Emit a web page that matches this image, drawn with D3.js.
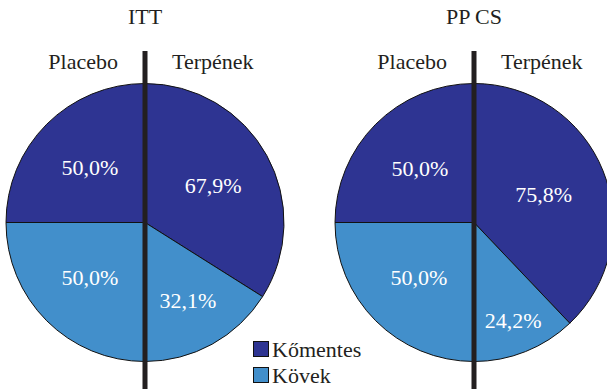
<!DOCTYPE html>
<html><head><meta charset="utf-8">
<script src="https://cdn.jsdelivr.net/npm/d3@7"></script>
<style>
html,body{margin:0;padding:0;background:#fff;}
svg{display:block;}
text{font-family:'Liberation Serif','Times New Roman',Times,'DejaVu Serif',serif;}
</style></head>
<body><svg id="c" width="607" height="389"></svg>
<script>
// ---- data ----
const groups = ["ITT", "PP CS"];
const arms = ["Placebo", "Terpének"];
const categories = ["Kőmentes", "Kövek"];
const komentes = [[50.0, 67.9], [50.0, 75.8]];  // per group: [Placebo, Terpének]
const kovek    = [[50.0, 32.1], [50.0, 24.2]];

// ---- layout / style ----
const colors = ["#2e3492", "#428fcb"];
const FONT = "'Liberation Serif','Times New Roman',Times,serif";
const W = 607, H = 389;
const centersX = [145, 474];
const cy = 222.5, R = 139;
const labelRadius = [[[0.56, 0.56], [0.56, 0.64]], [[0.55, 0.56], [0.54, 0.76]]]; // [group][arm][category]
const fmt = v => d3.format(".1f")(v).replace(".", ",") + "%";

const svg = d3.select("#c");
const color = d3.scaleOrdinal().domain(categories).range(colors);
const arc = d3.arc().innerRadius(0).outerRadius(R);

groups.forEach((g, gi) => {
  const cx = centersX[gi];
  const G = svg.append("g").attr("transform", `translate(${cx},${cy})`);
  arms.forEach((a, ai) => {
    const vals = categories.map((c, ci) => ({cat: c, ci, v: ci === 0 ? komentes[gi][ai] : kovek[gi][ai]}));
    const pie = d3.pie().sort(null).value(d => d.v)
      .startAngle(ai === 0 ? 2 * Math.PI : 0)
      .endAngle(Math.PI);
    const slices = pie(vals);
    G.selectAll(null).data(slices).enter().append("path")
      .attr("d", arc)
      .attr("fill", d => color(d.data.cat))
      .attr("stroke", "#111")
      .attr("stroke-width", 1);
    slices.forEach(s => {
      const mid = (s.startAngle + s.endAngle) / 2;
      const r = R * labelRadius[gi][ai][s.data.ci];
      G.append("text")
        .attr("x", r * Math.sin(mid))
        .attr("y", -r * Math.cos(mid))
        .attr("dy", "0.35em")
        .attr("text-anchor", "middle")
        .attr("fill", "#fff")
        .attr("font-family", FONT)
        .attr("font-size", 22)
        .text(fmt(s.data.v));
    });
    svg.append("text")
      .attr("x", ai === 0 ? cx - 27 : cx + 27)
      .attr("y", 69)
      .attr("text-anchor", ai === 0 ? "end" : "start")
      .attr("fill", "#231f20")
      .attr("font-family", FONT)
      .attr("font-size", 22)
      .text(a);
  });
  svg.append("line")
    .attr("x1", cx).attr("x2", cx).attr("y1", 51).attr("y2", H)
    .attr("stroke", "#231f20").attr("stroke-width", 5);
  svg.append("text")
    .attr("x", cx).attr("y", 24)
    .attr("text-anchor", "middle")
    .attr("fill", "#231f20")
    .attr("font-family", FONT)
    .attr("font-size", 22)
    .text(g);
});

// legend
const leg = svg.append("g").attr("transform", "translate(253,341)");
categories.forEach((c, i) => {
  const row = leg.append("g").attr("transform", `translate(0,${i * 26})`);
  row.append("rect").attr("x", 0.5).attr("y", 0.5).attr("width", 15).attr("height", 15)
    .attr("fill", color(c)).attr("stroke", "#111").attr("stroke-width", 1);
  row.append("text").attr("x", 19).attr("y", 15.5)
    .attr("fill", "#231f20").attr("font-family", FONT).attr("font-size", 22).text(c);
});
</script></body></html>
